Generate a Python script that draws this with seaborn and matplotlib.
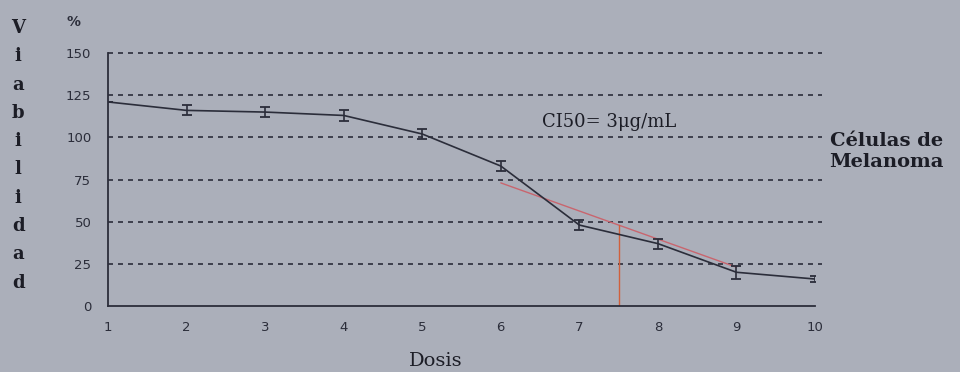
import matplotlib
matplotlib.use("Agg")
import matplotlib.pyplot as plt
import seaborn as sns
import pandas as pd

# Viability of melanoma cells per dose
dosis = [1, 2, 3, 4, 5, 6, 7, 8, 9, 10]
viabilidad = [121, 116, 115, 113, 102, 83, 48, 37, 20, 16]
error = [0, 3, 3, 3, 3, 3, 3, 3, 4, 2]

# Linear fit over the steep part of the curve and the IC50 marker
ajuste_x = [6, 9]
ajuste_y = [73, 23]
ic50_x = 7.5
ic50_y = 48

y_ticks = [0, 25, 50, 75, 100, 125, 150]
x_ticks = dosis

bg = "#abafba"
ink = "#2b2d3a"
text_ink = "#1c1d26"

sns.set_theme(style="white")
plt.rcParams["font.family"] = ["DejaVu Sans"]

fig = plt.figure(figsize=(9.6, 3.72), dpi=100, facecolor=bg)
ax = fig.add_axes([0.1125, 0.1774, 0.7365, 0.680])
ax.set_facecolor(bg)

df = pd.DataFrame({"Dosis": dosis, "Viabilidad": viabilidad})

# dashed horizontal guide lines
for yv in y_ticks[1:]:
    ax.axhline(yv, xmax=1.01, color=ink, lw=1.2, ls=(0, (3, 3)), zorder=1,
               clip_on=False)

sns.lineplot(data=df, x="Dosis", y="Viabilidad", ax=ax, color=ink, lw=1.2, zorder=3)
ax.errorbar(dosis, viabilidad, yerr=error, fmt="none", ecolor=ink,
            elinewidth=1.2, capsize=3.5, capthick=1.3, zorder=3)

ax.plot(ajuste_x, ajuste_y, color="#c9656e", lw=1.0, zorder=2)
ax.plot([ic50_x, ic50_x], [0, ic50_y], color="#d0603c", lw=1.0, zorder=2)

ax.set_xlim(1, 10)
ax.set_ylim(0, 150)
ax.set_xticks(x_ticks)
ax.set_yticks(y_ticks)
ax.tick_params(axis="both", labelsize=9.5, colors=ink, length=4, width=1,
               direction="out")
ax.tick_params(axis="y", pad=8)
ax.tick_params(axis="x", pad=7)
for side in ("top", "right"):
    ax.spines[side].set_visible(False)
for side in ("left", "bottom"):
    ax.spines[side].set_color(ink)
    ax.spines[side].set_linewidth(1.3)
ax.set_xlabel("")
ax.set_ylabel("")

serif = ["DejaVu Serif"]
ax.text(7.38, 109, "CI50= 3μg/mL", family=serif, fontsize=13, color=text_ink,
        ha="center", va="center")
fig.text(0.923, 0.593, "Células de\nMelanoma", family=serif, fontsize=14,
         fontweight="bold", color=text_ink, ha="center", va="center",
         linespacing=1.25)
fig.text(0.454, 0.03, "Dosis", family=serif, fontsize=14, color=text_ink,
         ha="center", va="center")
fig.text(0.077, 0.94, "%", fontsize=10, color=ink, ha="center", va="center",
         fontweight="bold")

letras = "Viabilidad"
for i, ch in enumerate(letras):
    fig.text(0.019, 1 - (28 + i * 28.3) / 372, ch, family=serif, fontsize=13,
             fontweight="bold", color=text_ink, ha="center", va="center")

fig.savefig("out.png", dpi=100, facecolor=bg)
